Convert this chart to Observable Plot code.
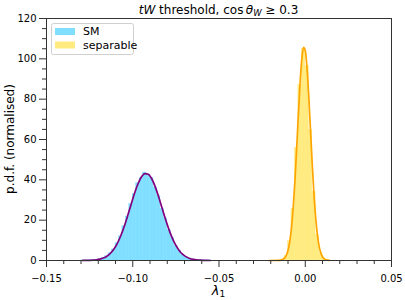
<!DOCTYPE html>
<html>
<head>
<meta charset="utf-8">
<script src="https://cdn.jsdelivr.net/npm/d3@7"></script>
<script src="https://cdn.jsdelivr.net/npm/@observablehq/plot@0.6"></script>
<style>
  html, body { margin: 0; padding: 0; background: white; }
  svg { font-family: "DejaVu Sans", sans-serif; }
</style>
</head>
<body>
<div id="chart"></div>
<script>
// ---- data ----
const binWidth = 0.002;

const smBinCenters = [-0.129,-0.127,-0.125,-0.123,-0.121,-0.119,-0.117,-0.115,-0.113,-0.111,-0.109,-0.107,-0.105,-0.103,-0.101,-0.099,-0.097,-0.095,-0.093,-0.091,-0.089,-0.087,-0.085,-0.083,-0.081,-0.079,-0.077,-0.075,-0.073,-0.071,-0.069,-0.067,-0.065,-0.063,-0.061,-0.059,-0.057,-0.055];
const smHist = [0.02,0.04,0.09,0.16,0.36,0.64,1.25,2.05,3.58,5.46,8.55,12.0,17.0,21.8,28.0,32.9,38.3,41.0,43.6,42.5,40.9,36.2,31.9,25.6,20.8,15.0,11.1,7.3,4.95,2.95,1.85,0.98,0.56,0.27,0.15,0.07,0.03,0.01];
const smCurve = [0.016,0.037,0.081,0.171,0.343,0.658,1.203,2.10,3.49,5.55,8.41,12.15,16.76,22.06,27.70,33.20,37.95,41.39,43.08,42.77,40.53,36.63,31.60,26.00,20.42,15.30,10.93,7.46,4.86,3.01,1.79,1.01,0.54,0.28,0.14,0.064,0.029,0.012];

const sepBinCenters = [-0.019,-0.017,-0.015,-0.013,-0.011,-0.009,-0.007,-0.005,-0.003,-0.001,0.001,0.003,0.005,0.007,0.009,0.011,0.013];
const sepHist = [0.001,0.01,0.08,0.52,2.4,9.6,25.5,55.8,87.0,104.8,96.5,64.6,34.2,12.7,3.9,0.8,0.15];

const sepCurveX = [-0.021,-0.020,-0.019,-0.018,-0.017,-0.016,-0.015,-0.014,-0.013,-0.012,-0.011,-0.010,-0.009,-0.008,-0.007,-0.006,-0.005,-0.004,-0.003,-0.002,-0.001,0.000,0.001,0.002,0.003,0.004,0.005,0.006,0.007,0.008,0.009,0.010,0.011,0.012,0.013,0.014];
const sepCurve = [0.00005,0.0002,0.0008,0.003,0.0088,0.027,0.077,0.203,0.50,1.16,2.49,4.98,9.28,16.10,26.05,39.25,55.12,72.12,87.92,99.85,105.66,104.18,95.70,81.91,65.32,48.53,33.59,21.67,13.02,7.29,3.80,1.85,0.84,0.35,0.14,0.05];

const xTicks = [-0.15,-0.10,-0.05,0.00,0.05];
const xMinor = [-0.14,-0.13,-0.12,-0.11,-0.09,-0.08,-0.07,-0.06,-0.04,-0.03,-0.02,-0.01,0.01,0.02,0.03,0.04];
const yTicks = [0,20,40,60,80,100,120];
const yMinor = [5,10,15,25,30,35,45,50,55,65,70,75,85,90,95,105,110,115];

const seriesNames = ["SM","separable"];
const histColors = ["#80dfff","#ffeb80"];
const curveColors = ["purple","orange"];

// ---- tables ----
const smBars = smBinCenters.map((c,i)=>({x1:c-binWidth/2, x2:c+binWidth/2, y:smHist[i]}));
const sepBars = sepBinCenters.map((c,i)=>({x1:c-binWidth/2, x2:c+binWidth/2, y:sepHist[i]}));
const smLine = smBinCenters.map((c,i)=>({x:c, y:smCurve[i]}));
const sepLine = sepCurveX.map((c,i)=>({x:c, y:sepCurve[i]}));

const W = 405, H = 300;
const mL = 46, mR = 14, mT = 18, mB = 40;

const svg = Plot.plot({
  width: W, height: H,
  marginLeft: mL, marginRight: mR, marginTop: mT, marginBottom: mB,
  style: {fontFamily: "DejaVu Sans, sans-serif", fontSize: "10px", background: "white"},
  x: {domain: [-0.15, 0.05]},
  y: {domain: [0, 120]},
  marks: [
    Plot.rectY(smBars, {x1:"x1", x2:"x2", y1:0, y2:"y", fill:histColors[0], stroke:histColors[0], strokeWidth:0.5}),
    Plot.line(smLine, {x:"x", y:"y", stroke:curveColors[0], strokeWidth:1.7, curve:"monotone-x"}),
    Plot.rectY(sepBars, {x1:"x1", x2:"x2", y1:0, y2:"y", fill:histColors[1], stroke:histColors[1], strokeWidth:0.5}),
    Plot.line(sepLine, {x:"x", y:"y", stroke:curveColors[1], strokeWidth:1.7, curve:"monotone-x"}),
    Plot.axisX({ticks: xTicks, tickSize: 7, tickPadding: 7, tickFormat: d3.format(".2f"), label: null, stroke: "#333", fontSize: 10}),
    Plot.axisX({ticks: xMinor, tickSize: 4, text: null, label: null, stroke: "#333"}),
    Plot.axisY({ticks: yTicks, tickSize: 7, tickPadding: 3, tickFormat: d3.format("d"), label: null, stroke: "#333", fontSize: 10}),
    Plot.axisY({ticks: yMinor, tickSize: 4, text: null, label: null, stroke: "#333"}),
    Plot.frame({stroke: "#333", strokeWidth: 1})
  ]
});

const s = d3.select(svg);
const cx = mL + (W - mL - mR) / 2;
const cy = mT + (H - mT - mB) / 2;

// title
const t = s.append("text").attr("x", cx).attr("y", 13.5).attr("text-anchor", "middle")
  .attr("font-size", 12).attr("fill", "black");
t.append("tspan").attr("font-style", "italic").text("tW");
t.append("tspan").text(" threshold, cos\u2009");
t.append("tspan").attr("font-style", "italic").text("θ");
t.append("tspan").attr("font-style", "italic").attr("font-size", 8.5).attr("dy", 2.5).text("W");
t.append("tspan").attr("dy", -2.5).text(" ≥ 0.3");

// x label
const xl = s.append("text").attr("x", cx).attr("y", 295).attr("text-anchor", "middle")
  .attr("font-size", 13).attr("fill", "black");
xl.append("tspan").attr("font-style", "italic").text("λ");
xl.append("tspan").attr("font-size", 9).attr("dy", 2).text("1");

// y label
s.append("text").attr("transform", `translate(14,${cy}) rotate(-90)`).attr("text-anchor", "middle")
  .attr("font-size", 12).attr("fill", "black").text("p.d.f. (normalised)");

// legend
const lg = s.append("g").attr("text-anchor", "start");
lg.append("rect").attr("x", 51.5).attr("y", 23.5).attr("width", 82).attr("height", 31)
  .attr("rx", 2).attr("fill", "white").attr("fill-opacity", 0.8).attr("stroke", "#d0d0d0").attr("stroke-width", 1);
seriesNames.forEach((name, i) => {
  const yc = 31.5 + i * 13.5;
  lg.append("rect").attr("x", 55).attr("y", yc - 3.5).attr("width", 20).attr("height", 7).attr("fill", histColors[i]);
  lg.append("text").attr("x", 83).attr("y", yc).attr("dy", "0.35em").attr("text-anchor", "start")
    .attr("font-size", 11).attr("fill", "black").text(name);
});

document.getElementById("chart").appendChild(svg);
</script>
</body>
</html>
